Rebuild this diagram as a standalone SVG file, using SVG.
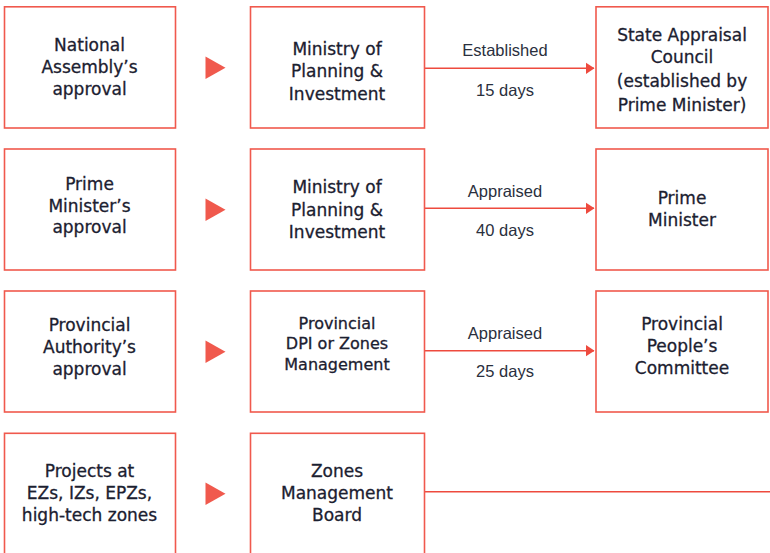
<svg xmlns="http://www.w3.org/2000/svg" width="770" height="553" viewBox="0 0 770 553">
<style>
.box{fill:#fff;stroke:#f0594d;stroke-width:1.6}
.t{font-family:"DejaVu Sans",sans-serif;font-size:17px;fill:#1b2030;stroke:#1b2030;stroke-width:0.3;text-anchor:middle}
.s{font-size:16px}
.lbl{font-family:"Liberation Sans",Arial,sans-serif;font-size:16.5px;fill:#2a2f3d;text-anchor:middle}
.tri{fill:#f0594d}
.conn{stroke:#ee4a3e;stroke-width:1.6;fill:none}
</style>
<defs>
<marker id="ah" markerWidth="9" markerHeight="12" refX="8.5" refY="6" orient="auto" markerUnits="userSpaceOnUse">
<path d="M0,0 L9,6 L0,12 Z" fill="#ee4a3e"/>
</marker>
</defs>
<rect width="770" height="553" fill="#fff"/>

<g id="connectors">
<line class="conn" x1="424" y1="68.3" x2="594" y2="68.3" marker-end="url(#ah)"/>
<line class="conn" x1="424" y1="208.3" x2="594" y2="208.3" marker-end="url(#ah)"/>
<line class="conn" x1="424" y1="350.7" x2="594" y2="350.7" marker-end="url(#ah)"/>
<line class="conn" x1="424" y1="491.7" x2="770" y2="491.7"/>
<polygon class="tri" points="205.5,56.5 225.5,67.8 205.5,79"/>
<polygon class="tri" points="205.5,198.5 225.5,209.7 205.5,221"/>
<polygon class="tri" points="205.5,340.5 225.5,351.7 205.5,363"/>
<polygon class="tri" points="205.5,482.5 225.5,493.7 205.5,505"/>
<text class="lbl" x="505" y="56">Established</text>
<text class="lbl" x="505" y="95.7">15 days</text>
<text class="lbl" x="505" y="197.3">Appraised</text>
<text class="lbl" x="505" y="236">40 days</text>
<text class="lbl" x="505" y="339">Appraised</text>
<text class="lbl" x="505" y="377.3">25 days</text>
</g>

<g id="n-national-assembly">
<rect class="box" x="4.5" y="6.8" width="171" height="121.2"/>
<text class="t" x="89.5" y="50.7">National</text>
<text class="t" x="89.5" y="72.7">Assembly’s</text>
<text class="t" x="89.5" y="94.5">approval</text>
</g>
<g id="n-mpi-1">
<rect class="box" x="250.5" y="6.8" width="174" height="121.2"/>
<text class="t" x="337" y="55">Ministry of</text>
<text class="t" x="337" y="77.3">Planning &amp;</text>
<text class="t" x="337" y="100">Investment</text>
</g>
<g id="n-state-appraisal">
<rect class="box" x="596" y="6.8" width="172" height="121.2"/>
<text class="t" x="682" y="40.7">State Appraisal</text>
<text class="t" x="682" y="63.3">Council</text>
<text class="t" x="682" y="86.8">(established by</text>
<text class="t" x="682" y="110.5">Prime Minister)</text>
</g>

<g id="n-pm-approval">
<rect class="box" x="4.5" y="149" width="171" height="121"/>
<text class="t" x="89.5" y="190">Prime</text>
<text class="t" x="89.5" y="211.7">Minister’s</text>
<text class="t" x="89.5" y="233.3">approval</text>
</g>
<g id="n-mpi-2">
<rect class="box" x="250.5" y="149" width="174" height="121"/>
<text class="t" x="337" y="193.3">Ministry of</text>
<text class="t" x="337" y="215.7">Planning &amp;</text>
<text class="t" x="337" y="237.7">Investment</text>
</g>
<g id="n-prime-minister">
<rect class="box" x="596" y="149" width="172" height="121"/>
<text class="t" x="682" y="204.3">Prime</text>
<text class="t" x="682" y="226">Minister</text>
</g>

<g id="n-provincial-authority">
<rect class="box" x="4.5" y="291" width="171" height="121"/>
<text class="t" x="89.5" y="331.3">Provincial</text>
<text class="t" x="89.5" y="352.7">Authority’s</text>
<text class="t" x="89.5" y="375">approval</text>
</g>
<g id="n-provincial-dpi">
<rect class="box" x="250.5" y="291" width="174" height="121"/>
<text class="t s" x="337" y="328.7">Provincial</text>
<text class="t s" x="337" y="349.3">DPI or Zones</text>
<text class="t s" x="337" y="369.7">Management</text>
</g>
<g id="n-provincial-people">
<rect class="box" x="596" y="291" width="172" height="121"/>
<text class="t" x="682" y="330">Provincial</text>
<text class="t" x="682" y="351.7">People’s</text>
<text class="t" x="682" y="374.3">Committee</text>
</g>

<g id="n-projects-zones">
<rect class="box" x="4.5" y="433.3" width="171" height="125"/>
<text class="t" x="89.5" y="476.7">Projects at</text>
<text class="t" x="89.5" y="499">EZs, IZs, EPZs,</text>
<text class="t" x="89.5" y="521">high-tech zones</text>
</g>
<g id="n-zones-board">
<rect class="box" x="250.5" y="433.3" width="174" height="125"/>
<text class="t" x="337" y="476.7">Zones</text>
<text class="t" x="337" y="499">Management</text>
<text class="t" x="337" y="521">Board</text>
</g>
</svg>
